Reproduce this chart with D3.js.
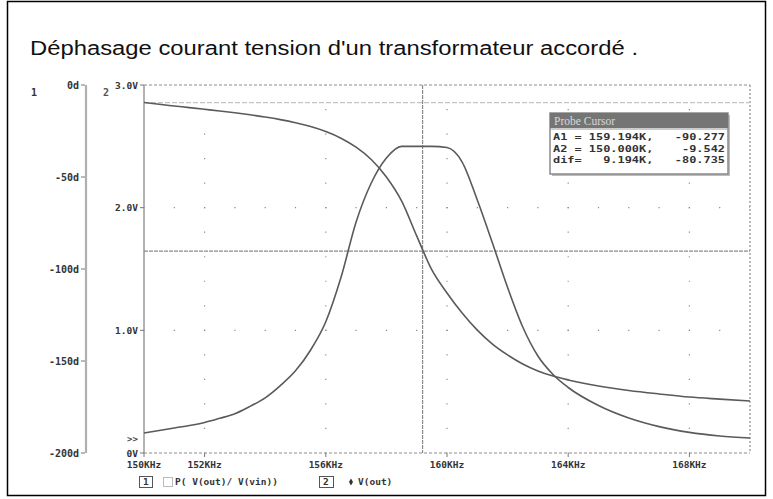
<!DOCTYPE html>
<html>
<head>
<meta charset="utf-8">
<script src="https://cdn.jsdelivr.net/npm/d3@7"></script>
<style>
body{margin:0;background:#fff;}
svg{display:block;}
</style>
</head>
<body>
<div id="ChartPart"></div>
<script>
// frequency in kHz, phase in degrees, V(out) in volts
var Freq = [150,150.5,151,151.5,152,152.5,153,153.5,154,154.5,155,155.5,156,156.5,157,157.5,158,158.5,159,159.5,160,160.5,161,161.5,162,162.5,163,163.5,164,165,166,167,168,169,170];
var Phase = [-9.5,-10.5,-11.4,-12.3,-13.2,-14.1,-15.1,-16.2,-17.4,-18.8,-20.5,-22.6,-25.3,-28.9,-33.8,-40.5,-50.0,-63.0,-82.0,-100.5,-113.0,-123.9,-133.2,-140.8,-146.7,-151.6,-155.4,-158.2,-160.3,-163.6,-166.0,-167.9,-169.6,-170.7,-171.7];
var Vout = [0.163,0.183,0.204,0.224,0.249,0.283,0.320,0.380,0.450,0.550,0.670,0.840,1.070,1.430,1.883,2.201,2.405,2.50,2.50,2.50,2.49,2.372,2.062,1.712,1.349,1.027,0.791,0.640,0.534,0.387,0.285,0.215,0.168,0.139,0.122];

var FreqTicks = [150,152,156,160,164,168];
var FreqTickLabels = ["150KHz","152KHz","156KHz","160KHz","164KHz","168KHz"];
var PhaseTicks = [0,-50,-100,-150,-200];
var PhaseTickLabels = ["0d","-50d","-100d","-150d","-200d"];
var VoltTicks = [3,2,1,0];
var VoltTickLabels = ["3.0V","2.0V","1.0V","0V"];

var CursorA1 = [159.194,-90.277];
var CursorA2 = [150.000,-9.542];
var CursorLines = ["A1 = 159.194K,   -90.277","A2 = 150.000K,    -9.542","dif=   9.194K,   -80.735"];

var Title = "Déphasage courant tension d'un transformateur accordé .";

var W = 773, H = 499;
var MonoFont = "'DejaVu Sans Mono', monospace";

var svg = d3.select('#ChartPart')
	.append("svg")
	.attr("width",W)
	.attr("height",H);

//outer frame------------------------------------------------------------------
svg.append("rect")
	.attr("x",7.5).attr("y",1.5)
	.attr("width",758).attr("height",494)
	.attr("fill","none").attr("stroke","#000").attr("stroke-width",1.5);

svg.append("text")
	.attr("x",30).attr("y",55)
	.style("font-family","'Liberation Sans', Arial, sans-serif")
	.style("font-size","20px")
	.attr("textLength",608)
	.attr("lengthAdjust","spacingAndGlyphs")
	.attr("fill","#111")
	.text(Title);

//scales-----------------------------------------------------------------------
var x = d3.scaleLinear().domain([150,170]).range([144,750]);
var yPh = d3.scaleLinear().domain([-200,0]).range([453,85]);
var yV = d3.scaleLinear().domain([0,3]).range([453,85]);

//grid dots
var GridColor = "#8a8a8a";
var vStep = yV(0) - yV(0.2);
var fStep = x(151) - x(150);
svg.append("g").selectAll("line")
	.data(FreqTicks.slice(1))
	.enter().append("line")
	.attr("x1",function(d){return x(d);}).attr("x2",function(d){return x(d);})
	.attr("y1",yV(0)).attr("y2",yV(3))
	.attr("stroke",GridColor).attr("stroke-width",1.2)
	.attr("stroke-dasharray","1.2," + (vStep-1.2))
	.attr("stroke-dashoffset",0.6);
svg.append("g").selectAll("line")
	.data([1,2])
	.enter().append("line")
	.attr("x1",x(150)).attr("x2",x(170))
	.attr("y1",function(d){return yV(d);}).attr("y2",function(d){return yV(d);})
	.attr("stroke",GridColor).attr("stroke-width",1.2)
	.attr("stroke-dasharray","1.2," + (fStep-1.2))
	.attr("stroke-dashoffset",0.6);

//dashed frame of the plot
var FrameColor = "#8c8c8c";
svg.append("line").attr("x1",x(150)).attr("x2",x(170)).attr("y1",yV(3)).attr("y2",yV(3))
	.attr("stroke",FrameColor).attr("stroke-dasharray","3,2").attr("stroke-width",1.2);
svg.append("line").attr("x1",x(150)).attr("x2",x(170)).attr("y1",yV(0)).attr("y2",yV(0))
	.attr("stroke",FrameColor).attr("stroke-dasharray","3,2").attr("stroke-width",1.2);
svg.append("line").attr("x1",x(170)).attr("x2",x(170)).attr("y1",yV(3)).attr("y2",yV(0))
	.attr("stroke",FrameColor).attr("stroke-dasharray","2,2").attr("stroke-width",1.2);

//x axis ticks and labels
svg.append("g").selectAll("line")
	.data(FreqTicks)
	.enter().append("line")
	.attr("x1",function(d){return x(d);}).attr("x2",function(d){return x(d);})
	.attr("y1",yV(0)).attr("y2",yV(0)+4)
	.attr("stroke","#777").attr("stroke-width",1);
svg.append("g").selectAll("text")
	.data(FreqTicks)
	.enter().append("text")
	.attr("x",function(d){return x(d);})
	.attr("y",468)
	.attr("text-anchor","middle")
	.style("font-family",MonoFont).style("font-size","9.5px").style("font-weight","bold")
	.attr("fill","#333")
	.text(function(d,i){return FreqTickLabels[i];});

//axis 1 (phase)
svg.append("line").attr("x1",86).attr("x2",86).attr("y1",yPh(0)).attr("y2",yPh(-200))
	.attr("stroke","#b0b0b0").attr("stroke-width",2.2);
svg.append("g").selectAll("line")
	.data(PhaseTicks)
	.enter().append("line")
	.attr("x1",81).attr("x2",85)
	.attr("y1",function(d){return yPh(d);}).attr("y2",function(d){return yPh(d);})
	.attr("stroke","#777");
svg.append("g").selectAll("text")
	.data(PhaseTicks)
	.enter().append("text")
	.attr("x",79)
	.attr("y",function(d){return yPh(d)+3.5;})
	.attr("text-anchor","end")
	.style("font-family",MonoFont).style("font-size","10px").style("font-weight","bold")
	.attr("fill","#333")
	.text(function(d,i){return PhaseTickLabels[i];});
svg.append("text").attr("x",31).attr("y",96)
	.style("font-family",MonoFont).style("font-size","10px").style("font-weight","bold")
	.attr("fill","#333").text("1");

//axis 2 (V(out))
svg.append("line").attr("x1",x(150)).attr("x2",x(150)).attr("y1",yV(3)).attr("y2",yV(0))
	.attr("stroke","#9a9a9a").attr("stroke-width",1.5);
svg.append("g").selectAll("line")
	.data(VoltTicks)
	.enter().append("line")
	.attr("x1",x(150)-4).attr("x2",x(150))
	.attr("y1",function(d){return yV(d);}).attr("y2",function(d){return yV(d);})
	.attr("stroke","#777");
svg.append("g").selectAll("text")
	.data(VoltTicks)
	.enter().append("text")
	.attr("x",138)
	.attr("y",function(d){return yV(d)+3.5;})
	.attr("text-anchor","end")
	.style("font-family",MonoFont).style("font-size","9.5px").style("font-weight","bold")
	.attr("fill","#333")
	.text(function(d,i){return VoltTickLabels[i];});
svg.append("text").attr("x",103).attr("y",96)
	.style("font-family",MonoFont).style("font-size","10px").style("font-weight","bold")
	.attr("fill","#555").text("2");
svg.append("text").attr("x",127).attr("y",442)
	.style("font-family",MonoFont).style("font-size","9px").style("font-weight","bold")
	.attr("fill","#444").text(">>");

//cursors
var CursorColor = "#8a8a8a";
svg.append("line").attr("x1",x(CursorA1[0])).attr("x2",x(CursorA1[0])).attr("y1",yV(3)).attr("y2",yV(0))
	.attr("stroke",CursorColor).attr("stroke-width",1.2).attr("stroke-dasharray","4,1");
svg.append("line").attr("x1",x(150)).attr("x2",x(170)).attr("y1",yPh(CursorA1[1])).attr("y2",yPh(CursorA1[1]))
	.attr("stroke",CursorColor).attr("stroke-width",1.2).attr("stroke-dasharray","4,1");
svg.append("line").attr("x1",x(CursorA2[0])).attr("x2",x(170)).attr("y1",yPh(CursorA2[1])).attr("y2",yPh(CursorA2[1]))
	.attr("stroke","#c4c4c4").attr("stroke-width",1.2).attr("stroke-dasharray","5,2");

//curves
var PhaseLine = d3.line()
	.x(function(d,i){return x(Freq[i]);})
	.y(function(d){return yPh(d);})
	.curve(d3.curveMonotoneX);
var VoltLine = d3.line()
	.x(function(d,i){return x(Freq[i]);})
	.y(function(d){return yV(d);})
	.curve(d3.curveMonotoneX);
svg.append("path").datum(Phase).attr("d",PhaseLine)
	.attr("fill","none").attr("stroke","#5a5a5a").attr("stroke-width",1.6);
svg.append("path").datum(Vout).attr("d",VoltLine)
	.attr("fill","none").attr("stroke","#5a5a5a").attr("stroke-width",1.6);

//probe cursor box
var BoxX = 550, BoxY = 113, BoxW = 178, BoxH = 61;
svg.append("rect").attr("x",BoxX+2).attr("y",BoxY+2).attr("width",BoxW).attr("height",BoxH)
	.attr("fill","#bdbdbd");
svg.append("rect").attr("x",BoxX).attr("y",BoxY).attr("width",BoxW).attr("height",BoxH)
	.attr("fill","#fff").attr("stroke","#8a8a8a").attr("stroke-width",1.5);
svg.append("rect").attr("x",BoxX).attr("y",BoxY).attr("width",BoxW).attr("height",15)
	.attr("fill","#757575");
svg.append("text").attr("x",BoxX+4).attr("y",BoxY+11.5)
	.style("font-family","'Liberation Serif', serif").style("font-size","11.5px")
	.attr("fill","#d8d8d8").text("Probe Cursor");
svg.append("line").attr("x1",BoxX).attr("x2",BoxX+BoxW).attr("y1",BoxY+16).attr("y2",BoxY+16)
	.attr("stroke","#999");
svg.append("g").selectAll("text")
	.data(CursorLines)
	.enter().append("text")
	.attr("x",BoxX+3)
	.attr("y",function(d,i){return BoxY+27+i*11.5;})
	.attr("xml:space","preserve")
	.style("white-space","pre")
	.style("font-family",MonoFont).style("font-size","9.5px").style("font-weight","bold")
	.attr("textLength",172)
	.attr("lengthAdjust","spacingAndGlyphs")
	.attr("fill","#333")
	.text(function(d){return d;});

//legend under the axis
var LegendY = 485;
var LegendFont = {family:MonoFont,size:"9.5px"};
svg.append("rect").attr("x",139.5).attr("y",476.5).attr("width",13).attr("height",11)
	.attr("fill","none").attr("stroke","#555");
svg.append("text").attr("x",143).attr("y",LegendY).style("font-family",LegendFont.family)
	.style("font-size",LegendFont.size).style("font-weight","bold").attr("fill","#333").text("1");
svg.append("rect").attr("x",163.5).attr("y",477.5).attr("width",9).attr("height",9)
	.attr("fill","none").attr("stroke","#777").attr("stroke-dasharray","1,1");
svg.append("text").attr("x",175).attr("y",LegendY).attr("xml:space","preserve").style("white-space","pre")
	.style("font-family",LegendFont.family).style("font-size",LegendFont.size).style("font-weight","bold")
	.attr("fill","#333").text("P( V(out)/ V(vin))");
svg.append("rect").attr("x",319.5).attr("y",476.5).attr("width",14).attr("height",11)
	.attr("fill","none").attr("stroke","#555");
svg.append("text").attr("x",323).attr("y",LegendY).style("font-family",LegendFont.family)
	.style("font-size",LegendFont.size).style("font-weight","bold").attr("fill","#333").text("2");
svg.append("path").attr("d",d3.symbol().type(d3.symbolDiamond).size(14)())
	.attr("transform","translate(351,482)").attr("fill","#333");
svg.append("text").attr("x",358).attr("y",LegendY)
	.style("font-family",LegendFont.family).style("font-size",LegendFont.size).style("font-weight","bold")
	.attr("fill","#333").text("V(out)");
</script>
</body>
</html>
